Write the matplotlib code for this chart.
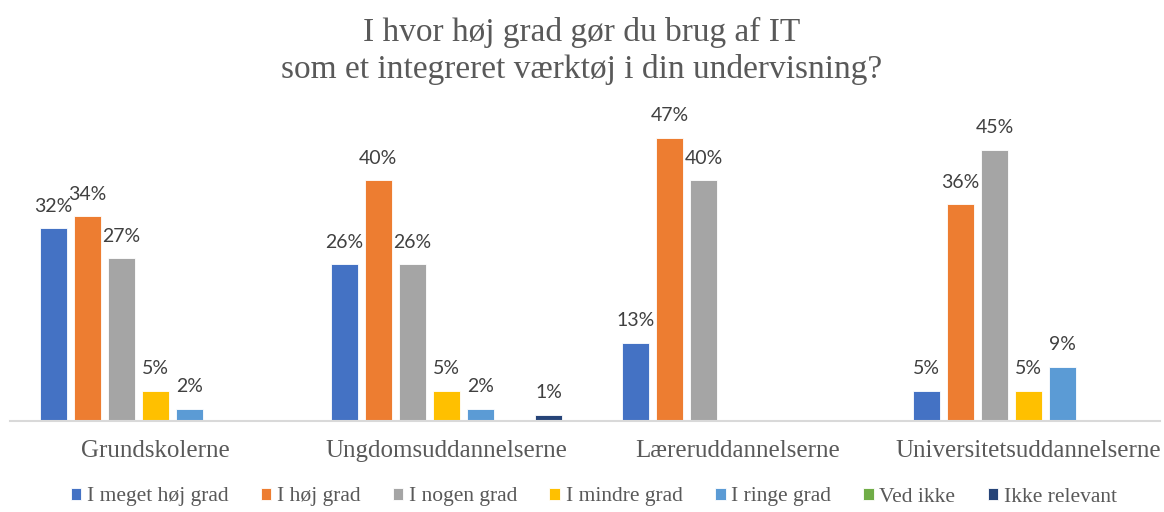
import numpy as np
import matplotlib
matplotlib.use("Agg")
import matplotlib.pyplot as plt

categories = ["Grundskolerne", "Ungdomsuddannelserne", "Læreruddannelserne", "Universitetsuddannelserne"]
series = ["I meget høj grad", "I høj grad", "I nogen grad", "I mindre grad",
          "I ringe grad", "Ved ikke", "Ikke relevant"]

# procent pr. kategori, en liste pr. svar
meget_hoej = [32, 26, 13, 5]
hoej = [34, 40, 47, 36]
nogen = [27, 26, 40, 45]
mindre = [5, 5, 0, 5]
ringe = [2, 2, 0, 9]
ved_ikke = [0, 0, 0, 0]
ikke_relevant = [0, 1, 0, 0]

values = [meget_hoej, hoej, nogen, mindre, ringe, ved_ikke, ikke_relevant]
colors = ["#4472C4", "#ED7D31", "#A5A5A5", "#FFC000", "#5B9BD5", "#70AD47", "#264478"]

serif = ["Liberation Serif", "DejaVu Serif"]
grey = "#595959"

fig = plt.figure(figsize=(11.64, 5.12), dpi=100)
ax = fig.add_axes([10 / 1164, 91 / 512, 1150 / 1164, 301 / 512])

x = np.arange(len(categories))
pitch = 0.117
width = 0.095
for i, (name, vals, col) in enumerate(zip(series, values, colors)):
    pos = x + (i - 3) * pitch
    bars = ax.bar(pos, vals, width, color=col, edgecolor="white", linewidth=0.6, label=name)
    for b, v in zip(bars, vals):
        if v > 0:
            ax.annotate(f"{v}%", (b.get_x() + b.get_width() / 2, v),
                        xytext=(0, 12), textcoords="offset points",
                        ha="center", va="baseline", fontsize=14,
                        family=["Lato", "DejaVu Sans"], color="#404040")

ax.set_xlim(-0.5, 3.452)
ax.set_ylim(0, 50)
ax.set_yticks([])
for s in ["top", "right", "left"]:
    ax.spines[s].set_visible(False)
ax.spines["bottom"].set_color("#D9D9D9")
ax.spines["bottom"].set_linewidth(1.5)
ax.set_xticks(x)
ax.set_xticklabels(categories, family=serif, fontsize=18, color=grey)
ax.tick_params(axis="x", length=0, pad=14)

fig.text(0.5, 1 - 51 / 512, "I hvor høj grad gør du brug af IT\nsom et integreret værktøj i din undervisning?",
         ha="center", va="center", fontsize=24, family=serif, color=grey, linespacing=1.25)

leg = fig.legend(loc="center", bbox_to_anchor=(0.51, 1 - 497 / 512), ncol=7, frameon=False,
                 prop={"family": serif, "size": 15.5}, handlelength=0.5, handleheight=0.5,
                 handletextpad=0.25, columnspacing=1.5, labelcolor=grey)

fig.savefig("out.png", dpi=100)
